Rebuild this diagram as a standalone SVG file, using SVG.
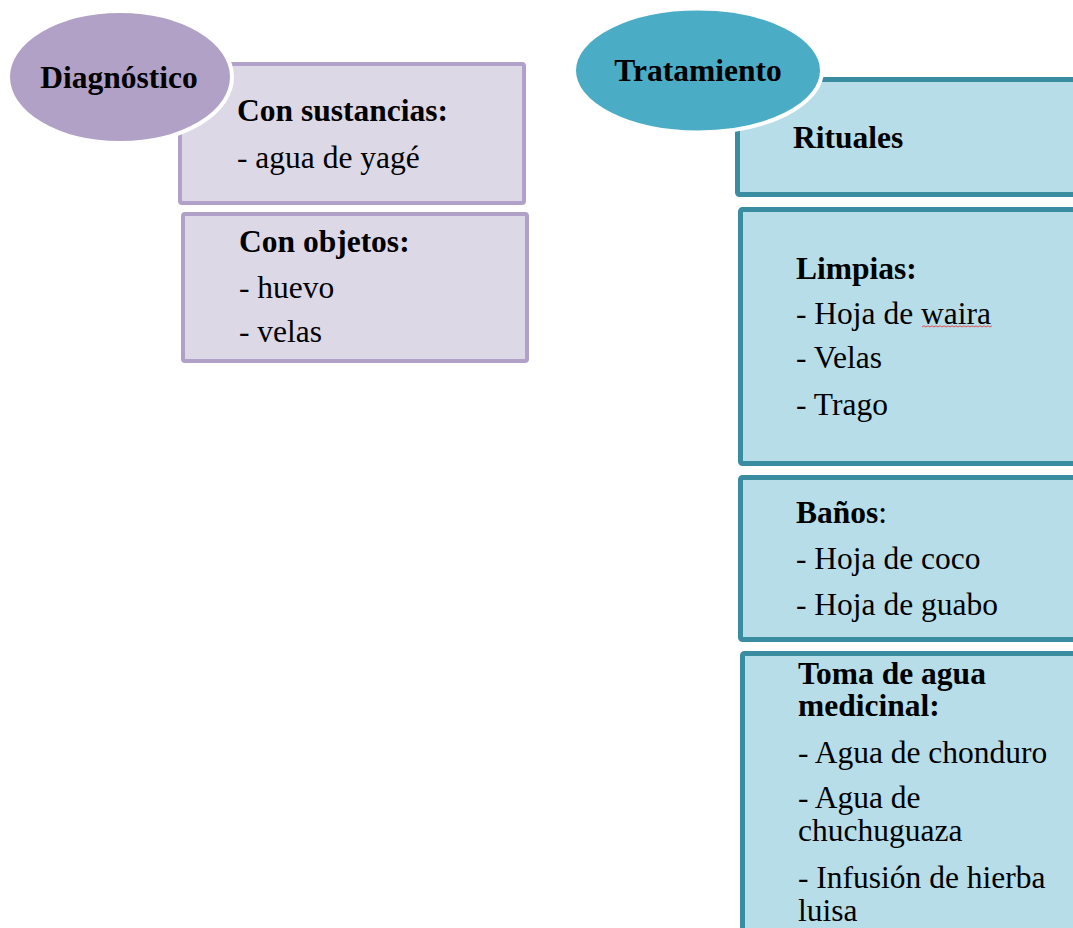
<svg xmlns="http://www.w3.org/2000/svg" width="1073" height="928" viewBox="0 0 1073 928">
  <style>
    text { font-family: "Liberation Serif", "Times New Roman", serif; font-size: 31.5px; fill: #000; }
    .b { font-weight: bold; }
    .dbox { fill: #dcd8e6; stroke: #b1a0c7; stroke-width: 4; }
    .tbox { fill: #b7dde8; stroke: #3a8ca1; stroke-width: 5; }
    .dhead { fill: #b2a1c7; stroke: #fff; stroke-width: 4; }
    .thead { fill: #4bacc6; stroke: #fff; stroke-width: 4; }
    .mid { text-anchor: middle; }
  </style>
  <rect width="1073" height="928" fill="#fff"/>

  <!-- no connectors: sub-items are stacked next to their heading -->
  <g id="connectors"/>

  <!-- Diagnóstico branch -->
  <g id="con-sustancias">
    <rect class="dbox" x="180" y="64" width="344" height="139" rx="2"/>
    <text class="b" x="237" y="121">Con sustancias:</text>
    <text x="237" y="168">- agua de yagé</text>
  </g>
  <g id="con-objetos">
    <rect class="dbox" x="183" y="214" width="344" height="147" rx="2"/>
    <text class="b" x="239" y="252">Con objetos:</text>
    <text x="239" y="298">- huevo</text>
    <text x="239" y="342">- velas</text>
  </g>
  <g id="diagnostico">
    <ellipse class="dhead" cx="120" cy="77" rx="112" ry="66"/>
    <text class="b mid" x="119" y="88">Diagnóstico</text>
  </g>

  <!-- Tratamiento branch -->
  <g id="rituales">
    <rect class="tbox" x="737.5" y="79.5" width="400" height="115" rx="2"/>
    <text class="b" x="793" y="148">Rituales</text>
  </g>
  <g id="limpias">
    <rect class="tbox" x="740.5" y="209.5" width="400" height="254" rx="2"/>
    <text class="b" x="796" y="279">Limpias:</text>
    <text x="796" y="324">- Hoja de waira</text>
    <path d="M922 327 l2 -1.2 l2 1.2 l2 -1.2 l2 1.2 l2 -1.2 l2 1.2 l2 -1.2 l2 1.2 l2 -1.2 l2 1.2 l2 -1.2 l2 1.2 l2 -1.2 l2 1.2 l2 -1.2 l2 1.2 l2 -1.2 l2 1.2 l2 -1.2 l2 1.2 l2 -1.2 l2 1.2 l2 -1.2 l2 1.2 l2 -1.2 l2 1.2 l2 -1.2 l2 1.2 l2 -1.2 l2 1.2 l2 -1.2 l2 1.2 l2 -1.2 l2 1.2 l2 -1.2" fill="none" stroke="#e05050" stroke-width="1"/>
    <text x="796" y="368">- Velas</text>
    <text x="796" y="415">- Trago</text>
  </g>
  <g id="banos">
    <rect class="tbox" x="740.5" y="477.5" width="400" height="162" rx="2"/>
    <text x="796" y="523"><tspan class="b">Baños</tspan>:</text>
    <text x="796" y="569">- Hoja de coco</text>
    <text x="796" y="615">- Hoja de guabo</text>
  </g>
  <g id="toma-de-agua">
    <rect class="tbox" x="742.5" y="653.5" width="400" height="400" rx="2"/>
    <text class="b" x="798" y="684">Toma de agua</text>
    <text class="b" x="798" y="716">medicinal:</text>
    <text x="798" y="763">- Agua de chonduro</text>
    <text x="798" y="808">- Agua de</text>
    <text x="798" y="841">chuchuguaza</text>
    <text x="798" y="888">- Infusión de hierba</text>
    <text x="798" y="921">luisa</text>
  </g>
  <g id="tratamiento">
    <ellipse class="thead" cx="698" cy="70.5" rx="124" ry="62"/>
    <text class="b mid" x="698" y="81">Tratamiento</text>
  </g>
</svg>
